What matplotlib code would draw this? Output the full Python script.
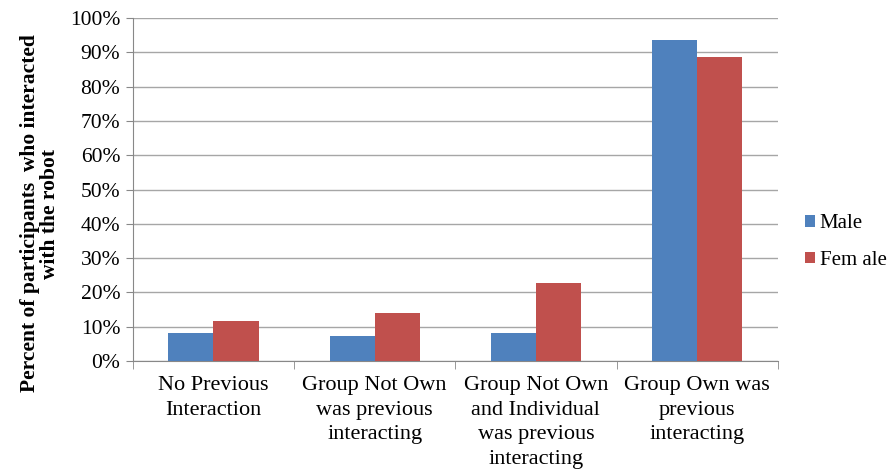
import numpy as np
import matplotlib.pyplot as plt
from matplotlib.ticker import PercentFormatter

plt.rcParams['font.family'] = ['Liberation Serif', 'DejaVu Serif']

categories = ['No Previous\nInteraction',
              'Group Not Own\nwas previous\ninteracting',
              'Group Not Own\nand Individual\nwas previous\ninteracting',
              'Group Own was\nprevious\ninteracting']
male = [8.2, 7.3, 8.2, 93.6]
female = [11.7, 14.0, 22.7, 88.6]

fig = plt.figure(figsize=(8.91, 4.75), dpi=100)
ax = fig.add_axes([0.149, 0.24, 0.724, 0.722])

x = np.arange(len(categories))
w = 0.28
ax.bar(x - w / 2, male, w, color='#4F81BD', label='Male', zorder=3)
ax.bar(x + w / 2, female, w, color='#C0504D', label='Fem ale', zorder=3)

ax.set_xlim(-0.5, len(categories) - 0.5)
ax.set_ylim(0, 100)
ax.set_yticks(np.arange(0, 101, 10))
ax.yaxis.set_major_formatter(PercentFormatter(decimals=0))
ax.grid(axis='y', color='#a6a6a6', linewidth=1, zorder=0)

ax.set_xticks(x)
ax.set_xticklabels(categories, fontsize=16, linespacing=1.4)
ax.set_xticks(np.arange(-0.5, len(categories)), minor=True)
ax.tick_params(axis='x', which='major', length=0, pad=11)
ax.tick_params(axis='x', which='minor', length=6, color='#888888', direction='out')
ax.tick_params(axis='y', length=5, color='#888888', labelsize=15.5, pad=4)

for s in ['top', 'right']:
    ax.spines[s].set_visible(False)
ax.spines['left'].set_color('#888888')
ax.spines['bottom'].set_color('#888888')

ax.set_ylabel('Percent of participants  who interacted\nwith the robot',
              fontsize=15.5, fontweight='bold', linespacing=1.0)
ax.yaxis.set_label_coords(-0.113, 0.43)

ax.legend(loc='center left', bbox_to_anchor=(1.0, 0.347), frameon=False,
          fontsize=15, handlelength=0.5, handleheight=0.5, handletextpad=0.2,
          labelspacing=0.85, borderaxespad=0.9)

fig.savefig('out.png', dpi=100)
